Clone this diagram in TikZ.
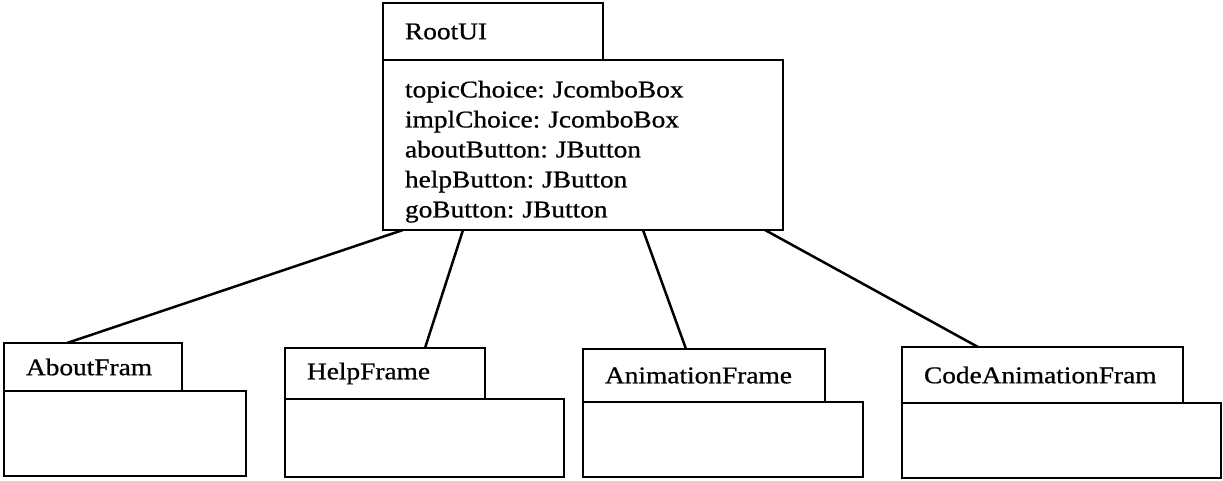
\documentclass[tikz,border=0pt]{standalone}
\usepackage{fontspec}
\setmainfont{Liberation Serif}[FakeStretch=1.14,FakeBold=0.8]
\frenchspacing
\tikzset{
    classtab/.style = {
        rectangle,
        draw=black,
        line width=2.5pt,
        anchor=north west,
        align=left,
        inner xsep=22pt,
        inner ysep=0pt,
        outer sep=0pt,
        font=\fontsize{24}{30}\selectfont
    },
    classbody/.style = {
        classtab,
        inner sep=0pt
    },
    link/.style = {
        draw=black,
        line width=2.5pt
    }
}
\begin{document}
\begin{tikzpicture}[x=1pt,y=-1pt]
    \useasboundingbox (0,0) rectangle (1223,480);
    % root class
    \node [classtab, minimum width=220pt, text width=176pt, minimum height=57pt] (rootTab) at (383,3) {RootUI};
    \node [classtab, minimum width=400pt, text width=356pt, minimum height=170pt] (rootBody) at (rootTab.south west) {\rule{0pt}{30pt}topicChoice: JcomboBox\\implChoice: JcomboBox\\aboutButton: JButton\\helpButton: JButton\\goButton: JButton};
    % frames
    \node [classtab, minimum width=178pt, text width=134pt, minimum height=48pt] (aboutTab) at (4,343) {AboutFram};
    \node [classbody, minimum width=242pt, minimum height=85pt] (aboutBody) at (aboutTab.south west) {};
    \node [classtab, minimum width=200pt, text width=156pt, minimum height=51pt] (helpTab) at (285,348) {HelpFrame};
    \node [classbody, minimum width=279pt, minimum height=78pt] (helpBody) at (helpTab.south west) {};
    \node [classtab, minimum width=242pt, text width=198pt, minimum height=53pt] (animTab) at (583,349) {AnimationFrame};
    \node [classbody, minimum width=280pt, minimum height=75pt] (animBody) at (animTab.south west) {};
    \node [classtab, minimum width=281pt, text width=237pt, minimum height=56pt] (codeTab) at (902,347) {CodeAnimationFram};
    \node [classbody, minimum width=319pt, minimum height=75pt] (codeBody) at (codeTab.south west) {};
    % links
    \draw [link] ([xshift=20pt]rootBody.south west) -- ([xshift=63pt]aboutTab.north west);
    \draw [link] ([xshift=80pt]rootBody.south west) -- ([xshift=140pt]helpTab.north west);
    \draw [link] ([xshift=260pt]rootBody.south west) -- ([xshift=103pt]animTab.north west);
    \draw [link] ([xshift=382pt]rootBody.south west) -- ([xshift=76pt]codeTab.north west);
\end{tikzpicture}
\end{document}
